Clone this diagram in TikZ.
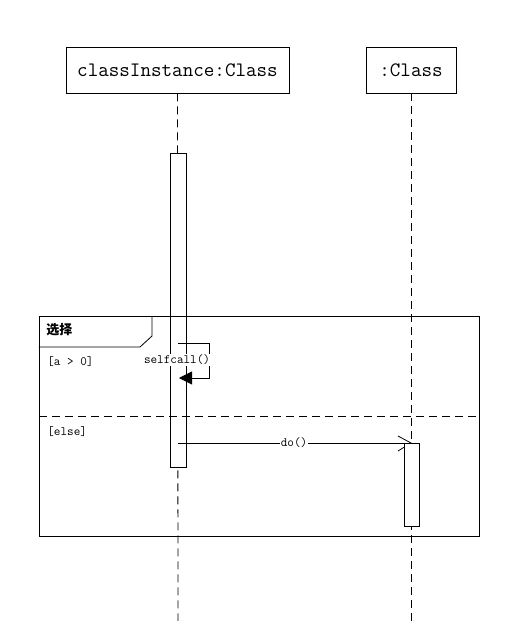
\documentclass[tikz,border=0pt]{standalone}
\usepackage{fontspec}
\newfontfamily\cjk{Noto Sans CJK SC}
\usetikzlibrary{arrows.meta}
\begin{document}
\begin{tikzpicture}[x=1pt,y=-1pt,line width=0.8pt,
  obj/.style={draw,fill=white,inner sep=0pt,minimum height=46pt,font=\ttfamily\fontsize{20.5}{24}\selectfont\addfontfeature{FakeBold=0.6}},
  life/.style={dash pattern=on 8pt off 5pt},
  act/.style={draw,fill=white,inner sep=0pt},
  lbl/.style={font=\ttfamily\fontsize{12.8}{15}\selectfont,inner sep=1pt}]
\path[use as bounding box] (0,0) rectangle (520,621);
% objects
\node[obj,minimum width=223pt] (c1) at (177.5,70) {classInstance:Class};
\node[obj,minimum width=90pt] (c2) at (411,70) {:Class};
\coordinate (e1) at (178,621);
\coordinate (e2) at (411,621);
\draw[life] (c1.south) -- (e1);
\draw[life] (c2.south) -- (e2);
% activation 1
\node[act,minimum width=16pt,minimum height=314pt] (a1) at (178,310) {};
% frame
\node[draw,inner sep=0pt,minimum width=440pt,minimum height=220pt] (fr) at (259,426) {};
\draw (fr.west |- 0,347) -- (140,347) -- (152,336) -- (152,316);
\node[anchor=west,inner sep=0pt,font=\cjk\bfseries\fontsize{13}{15}\selectfont] (tl) at (46,330) {选择};
\coordinate (s1) at (39,416);
\coordinate (s2) at (479,416);
\draw[life] (s1) -- (s2);
\node[lbl,anchor=west] (g1) at (46,362) {[a > 0]};
\node[lbl,anchor=west] (g2) at (46,432) {[else]};
% self call
\coordinate (sc0) at (178,343);
\coordinate (sc1) at (209,343);
\coordinate (sc2) at (209,378);
\coordinate (sc3) at (179,378);
\draw[-{Triangle[length=13pt,width=13pt]}] (sc0) -- (sc1) -- (sc2) -- (sc3);
\node[lbl,fill=white] (scl) at (177,360) {selfcall()};
% do message
\coordinate (d0) at (178,443);
\coordinate (d1) at (411,443);
\coordinate (b1) at (398,436);
\coordinate (b2) at (398,451);
\draw (d0) -- (d1);
\draw (b1) -- (d1) -- (b2);
\node[lbl,fill=white] (dl) at (294,443) {do()};
% activation 2
\node[act,minimum width=15pt,minimum height=83pt] (a2) at (411.5,484.5) {};
\end{tikzpicture}
\end{document}
